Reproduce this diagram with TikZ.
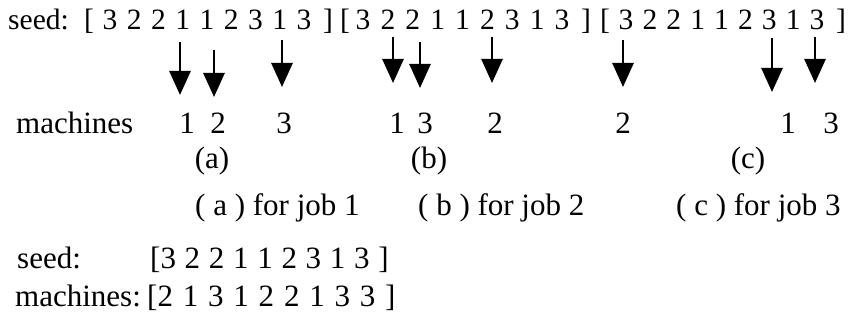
\documentclass[tikz,border=0pt]{standalone}
\usepackage{fontspec}
\setmainfont{Liberation Serif}
\usetikzlibrary{arrows.meta}
\begin{document}
\begin{tikzpicture}[x=1pt,y=-1pt,
  toptext/.style={font=\fontsize{29.5}{34}\selectfont, inner sep=0pt, anchor=base},
  bigtext/.style={font=\fontsize{31}{36}\selectfont, inner sep=0pt, anchor=base},
  bigleft/.style={bigtext, anchor=base west},
  arr/.style={line width=2.7pt, -{Triangle[width=21pt,length=24pt]}}]
\useasboundingbox (0,0) rectangle (851,329);

% seed row: three copies of the seed, one per job
\node[toptext, anchor=base west] (seedA) at (8,30) {seed:};
\node[toptext] (lbA) at (89,30) {[};
\foreach \d [count=\i from 0] in {3,2,2,1,1,2,3,1,3}
  \node[toptext] (ga-\i) at ({110+24.25*\i},30) {\d};
\node[toptext] (rbA) at (328,30) {]};
\node[toptext] (lbB) at (345,30) {[};
\foreach \d [count=\i from 0] in {3,2,2,1,1,2,3,1,3}
  \node[toptext] (gb-\i) at ({363+24.875*\i},30) {\d};
\node[toptext] (rbB) at (586,30) {]};
\node[toptext] (lbC) at (605,30) {[};
\foreach \d [count=\i from 0] in {3,2,2,1,1,2,3,1,3}
  \node[toptext] (gc-\i) at ({626+23.875*\i},30) {\d};
\node[toptext] (rbC) at (841,30) {]};

% arrow ends
\coordinate (a1t) at (180,42); \coordinate (a1b) at (180,95);
\coordinate (a2t) at (214,50); \coordinate (a2b) at (214,97);
\coordinate (a3t) at (282,40); \coordinate (a3b) at (282,87);
\coordinate (b1t) at (393,37); \coordinate (b1b) at (393,83);
\coordinate (b2t) at (420,42); \coordinate (b2b) at (420,88);
\coordinate (b3t) at (492,37); \coordinate (b3b) at (492,83);
\coordinate (c1t) at (623,40); \coordinate (c1b) at (623,87);
\coordinate (c2t) at (772,38); \coordinate (c2b) at (772,92);
\coordinate (c3t) at (815,37); \coordinate (c3b) at (815,83);
\foreach \a in {a1,a2,a3,b1,b2,b3,c1,c2,c3}
  \draw[arr] (\a t) -- (\a b);

% machines row
\node[bigleft] (machA) at (16,133) {machines};
\foreach \m/\x [count=\i] in {1/187,2/218,3/284,1/397,3/425,2/495,2/623,1/788,3/831}
  \node[bigtext] (m-\i) at (\x,133) {\m};

% sub-figure labels
\node[bigtext] (capa) at (212,168) {(a)};
\node[bigtext] (capb) at (429,168) {(b)};
\node[bigtext] (capc) at (748,168) {(c)};
\node[bigleft] (joba) at (195,215) {( a ) for job 1};
\node[bigleft] (jobb) at (418,215) {( b ) for job 2};
\node[bigleft] (jobc) at (676,215) {( c ) for job 3};

% resulting seed and machine vectors
\node[bigleft] (seedB) at (17,268) {seed:};
\node[bigleft] (seedvec) at (150,268) {\spaceskip=8.7pt [3 2 2 1 1 2 3 1 3 ]};
\node[bigleft] (machB) at (15,306) {machines:};
\node[bigleft] (machvec) at (147,306) {\spaceskip=9.8pt [2 1 3 1 2 2 1 3 3 ]};
\end{tikzpicture}
\end{document}
